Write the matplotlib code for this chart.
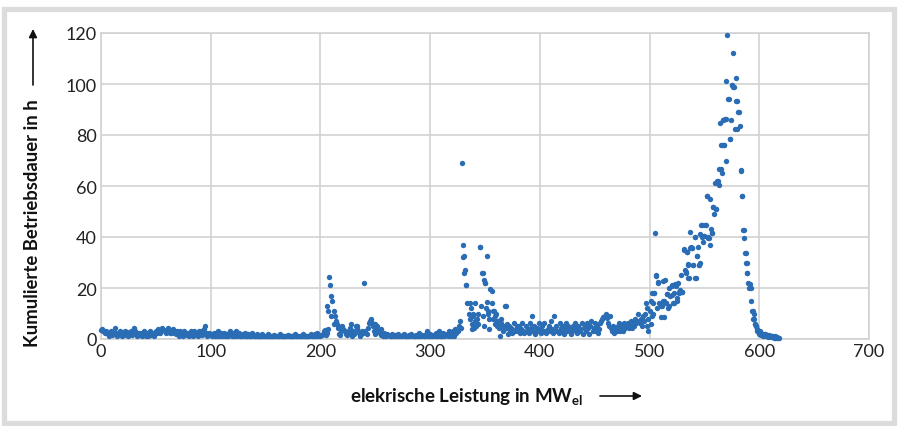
import numpy as np
import matplotlib.pyplot as plt
from matplotlib.patches import Rectangle

plt.rcParams['font.family'] = ['Lato', 'DejaVu Sans']

# cumulative operating hours per 1 MW bin, starting at 0 MW
dauer_h = [
    3.5, 4, 3, 3.2, 2.5, 3, 2, 1.2, 2.4, 3, 1.5, 2.2, 2, 4.2, 2.5, 1.3, 2.1, 3.1, 2.4, 1.2,
    2.3, 1.4, 3, 2.2, 2.6, 1.1, 2.3, 3.2, 1.4, 2.2, 4.2, 3, 2.1, 1.2, 2.4, 1.5, 2.2, 1.3, 2.5, 3.1,
    2.2, 1.3, 2.4, 1.2, 2.3, 3.1, 1.4, 2.2, 1.1, 2.5, 3.2, 2.3, 4.1, 3.2, 2.4, 3.3, 4.3, 3.4, 3.1, 2.3,
    3.3, 4.2, 3.1, 2.2, 3.4, 2.4, 4, 3.2, 2.1, 3.3, 2.2, 1.3, 3.1, 2.2, 2.4, 1.2, 3.2, 2.3, 1.4, 2.3,
    1.3, 2.2, 3.1, 2.4, 1.2, 3.2, 2.2, 2.3, 1.2, 3.1, 2.2, 3.3, 1.4, 2.1, 4.1, 5, 2.3, 1.3, 2.2, 1.4,
    2.1, 1.2, 1.4, 2.2, 1.1, 2.4, 1.3, 3.1, 1.2, 2.3, 1.1, 1.4, 2.2, 1.3, 2.1, 1.1, 1.3, 2.2, 3.2, 1.2,
    2.2, 1.3, 2.1, 3.2, 1.1, 1.4, 2.2, 1.2, 1.1, 2.1, 1.3, 2.2, 1.1, 1.2, 2.1, 1.3, 1.1, 1.2, 2.2, 1.1,
    1.2, 1.1, 2, 1.3, 1.1, 1.2, 1, 1.8, 1.1, 1.2, 1, 1.3, 1.9, 1.1, 1, 1.2, 1.1, 1, 1.7, 1.1,
    1, 1.2, 1.1, 1.8, 1, 1.1, 1.2, 1, 1.1, 1, 1.7, 1.1, 1, 1.2, 1, 1.1, 1, 1.8, 1.1, 1,
    1.1, 1, 1.2, 1, 1.9, 1.1, 1, 1.2, 1, 1.1, 1, 2, 1.1, 1.2, 1, 2.1, 1.2, 2.3, 1.1, 1.4,
    1.2, 1.5, 1.8, 3, 3.5, 1.5, 2.2, 4, 24.5, 21, 17, 15, 11, 9, 7, 6, 4.2, 2.1, 1.5, 3.2,
    5, 4.1, 3.2, 2.1, 1.4, 2.3, 3.1, 4.2, 2.2, 1.3, 3.2, 2.1, 5.1, 4.2, 3.1, 2.2, 1.3, 2.1, 3.2, 2.3,
    22, 3.2, 2.1, 4.2, 6.1, 7.2, 8, 6.2, 5.1, 3.2, 2.1, 4.1, 5.2, 3.1, 2.2, 1.5, 2.1, 1.2, 2.2, 1.1,
    1.2, 2.1, 1.5, 1.1, 1.2, 2.1, 1.1, 1.2, 1.6, 1.1, 1, 2, 1.1, 1.2, 1, 1.5, 2.1, 1.1, 1.2, 1,
    1.1, 1.6, 1.1, 2.1, 1, 1.2, 1.1, 1.5, 1, 1.1, 2.2, 1.1, 1, 1.6, 1.1, 1.2, 2.1, 3.1, 1.1, 1.2,
    2.1, 1.2, 1.1, 1.5, 1, 2.2, 1.1, 1.2, 3.1, 1, 1.1, 1.2, 2.2, 1.1, 1.6, 2.1, 1.2, 3.2, 2.1, 1.1,
    2.2, 3.1, 1.2, 4.1, 2.3, 3.2, 5.1, 7, 4.2, 69, 37, 32.5, 27, 21, 14, 10, 8, 12, 6, 9,
    4.2, 7.1, 5.2, 8, 10, 36, 13, 26, 9, 23, 22, 12, 32.5, 10, 8, 19.5, 14, 8, 11, 6,
    10, 5.2, 7.1, 4.2, 1.3, 6.1, 3.2, 5.1, 13, 13, 4.2, 2.1, 5.2, 3.1, 4.2, 2.3, 6.1, 3.2, 4.1, 5.2,
    3.2, 5.1, 2.2, 4.1, 6.2, 3.1, 2.2, 5.1, 3.2, 4.1, 2.2, 6.1, 4.2, 9, 3.1, 5.2, 2.1, 4.2, 3.1, 6.2,
    4.1, 2.2, 5.1, 3.2, 6.1, 3.1, 2.2, 4.1, 5.2, 3.1, 7, 4.1, 2.2, 9, 3.2, 5.1, 3.1, 2.2, 6.1, 4.2,
    3.1, 5.2, 2.1, 4.2, 6.1, 3.2, 5.1, 4.2, 2.1, 3.2, 5.1, 4.2, 6.1, 3.1, 2.2, 5.1, 4.2, 3.1, 6.2, 2.1,
    4.2, 5.1, 3.2, 6.1, 4.2, 2.1, 5.2, 7, 3.1, 4.2, 6.1, 3.2, 5.1, 2.2, 4.1, 6.2, 7.1, 8, 8.5, 9,
    9.8, 8.1, 6.2, 5.1, 9.1, 4.2, 3.1, 5.2, 2.2, 4.1, 3.2, 5.1, 6.2, 3.1, 4.2, 5.1, 3.2, 6.1, 4.2, 5.1,
    6.1, 4.2, 5.1, 7, 4.2, 6.1, 5.2, 8, 6.1, 9.8, 7, 6.1, 8, 5.2, 9, 7.1, 10, 14, 12, 8,
    11, 15, 18, 10, 18, 41.5, 25, 12, 22, 14, 8.5, 13, 15, 8.5, 23, 14, 17.5, 12, 20, 17,
    21, 14, 18, 21, 20.7, 16, 22, 18, 19.3, 25, 18.3, 35, 27, 26, 34, 29, 24, 41.8, 36, 35.6,
    29, 39.9, 24, 32.4, 36, 29, 41, 44.7, 40, 38, 40.3, 44.7, 56, 40, 39.5, 55, 43, 41.6, 51.6, 49,
    61, 51, 61.8, 60.4, 84.7, 66.8, 76, 86, 76, 86.3, 101.3, 119.2, 94, 78.4, 86, 99.5, 112, 99, 82.4, 102.4,
    93.5, 89, 83.4, 66, 56, 42.7, 39.7, 33.7, 29.7, 25.9, 22, 19.9, 15, 11, 8, 10, 6, 5, 4, 3,
    2, 3, 1.5, 2, 1, 2, 1.5, 1, 0.8, 1.5, 1, 0.8, 1, 0.5, 1, 0.6, 0.8, 0.5, 0.5,
]
leistung_mw = np.arange(len(dauer_h))

# additional sub-bin points around the peaks
extra_mw = [206, 207, 210, 212, 216, 222, 228, 233, 250, 255,
            330, 331, 333, 336, 339, 341, 345, 348, 350, 352, 353, 356, 357, 359,
            338, 344, 349, 354, 361, 363, 365, 367, 370,
            498, 499, 501, 502, 503, 504, 506, 508, 510, 512, 513, 515, 516, 518,
            520, 520.8, 522, 523, 525, 527, 530, 531, 533, 534, 535, 535.4, 537, 539,
            540, 541, 541.5, 543.6, 545.4, 546, 547.5, 549.7, 550.5, 552, 553.6, 555,
            557, 558, 560.6, 561.8, 563, 565, 565.7, 567, 568, 569.7, 570, 571.8, 573,
            575, 576.4, 579, 579.4, 581.6, 583, 584, 585.8, 588, 588.5, 589.2, 591.6,
            592, 594, 595, 596, 597, 598, 601, 603, 605, 607, 609, 612, 614, 616]
extra_h = [13, 11, 9, 6, 5, 3, 6, 5, 6, 4,
           32, 26, 21, 14, 10, 14, 36, 26, 22, 14.5, 11, 19, 11, 9,
           4, 6, 5, 4, 7, 5, 8, 4, 6,
           5, 3, 6, 9, 14, 18, 24.8, 22.2, 13, 22.9, 15, 14, 17.6, 13,
           17.3, 20.7, 14, 21.6, 15, 18.3, 18.3, 35.3, 26.4, 34, 29.4, 23.8, 35.6, 35.6,
           29.1, 23.8, 39.9, 32.4, 29.1, 30, 44.7, 40.3, 44.7, 56.2, 39.5, 37,
           41.6, 51.6, 51, 61.8, 66.8, 76, 65, 86, 76, 86.3, 70, 94, 78.4,
           99.5, 99, 93.5, 82.4, 89, 66.3, 56.2, 42.7, 33.7, 29.7, 25.9, 21.6,
           19.9, 11, 8, 6, 5, 3, 2, 1, 2, 1.5, 1, 1, 0.5, 0.5]

x_ticks = [0, 100, 200, 300, 400, 500, 600, 700]
y_ticks = [0, 20, 40, 60, 80, 100, 120]

W, H = 899, 427
fig = plt.figure(figsize=(W / 100, H / 100), dpi=100)
fig.patch.set_facecolor('white')

# light grey frame around the whole graphic
fig.patches.append(Rectangle((4 / W, 3.5 / H), 890 / W, 414 / H, transform=fig.transFigure,
                             fill=False, edgecolor='#dcdcdc', linewidth=3.8))

ax = fig.add_axes([101 / W, (H - 340) / H, 768 / W, 306 / H])
ax.scatter(leistung_mw, dauer_h, s=15, color='#2a6db4', linewidths=0, zorder=3, clip_on=False)
ax.scatter(extra_mw, extra_h, s=15, color='#2a6db4', linewidths=0, zorder=3, clip_on=False)

ax.set_xlim(0, 700)
ax.set_ylim(0, 120)
ax.set_xticks(x_ticks)
ax.set_yticks(y_ticks)
ax.grid(True, color='#d2d2d2', linewidth=1.2)
ax.set_axisbelow(True)
for sp in ax.spines.values():
    sp.set_color('#d2d2d2')
    sp.set_linewidth(1.2)
ax.tick_params(length=0, labelsize=13, colors='#222222')
ax.tick_params(axis='x', pad=3)
ax.tick_params(axis='y', pad=3)

fig.text(33 / W, 1 - 223 / H, 'Kumulierte Betriebsdauer in h', rotation=90,
         ha='center', va='center', fontsize=13.3, fontweight='bold', color='#111111')
fig.text(467 / W, 1 - 397 / H, r'elekrische Leistung in MW$_{\mathregular{el}}$',
         ha='center', va='center', fontsize=13.5, fontweight='bold', color='#111111')

arrow = dict(arrowstyle='-|>', color='#111111', lw=1.2, mutation_scale=12, shrinkA=0, shrinkB=0)
fig.add_artist(plt.Annotation('', xy=(33 / W, 1 - 30 / H), xytext=(33 / W, 1 - 86 / H),
                              xycoords='figure fraction', arrowprops=arrow))
fig.add_artist(plt.Annotation('', xy=(642 / W, 1 - 397 / H), xytext=(600 / W, 1 - 397 / H),
                              xycoords='figure fraction', arrowprops=arrow))

fig.savefig('out.png', dpi=100, facecolor='white')
